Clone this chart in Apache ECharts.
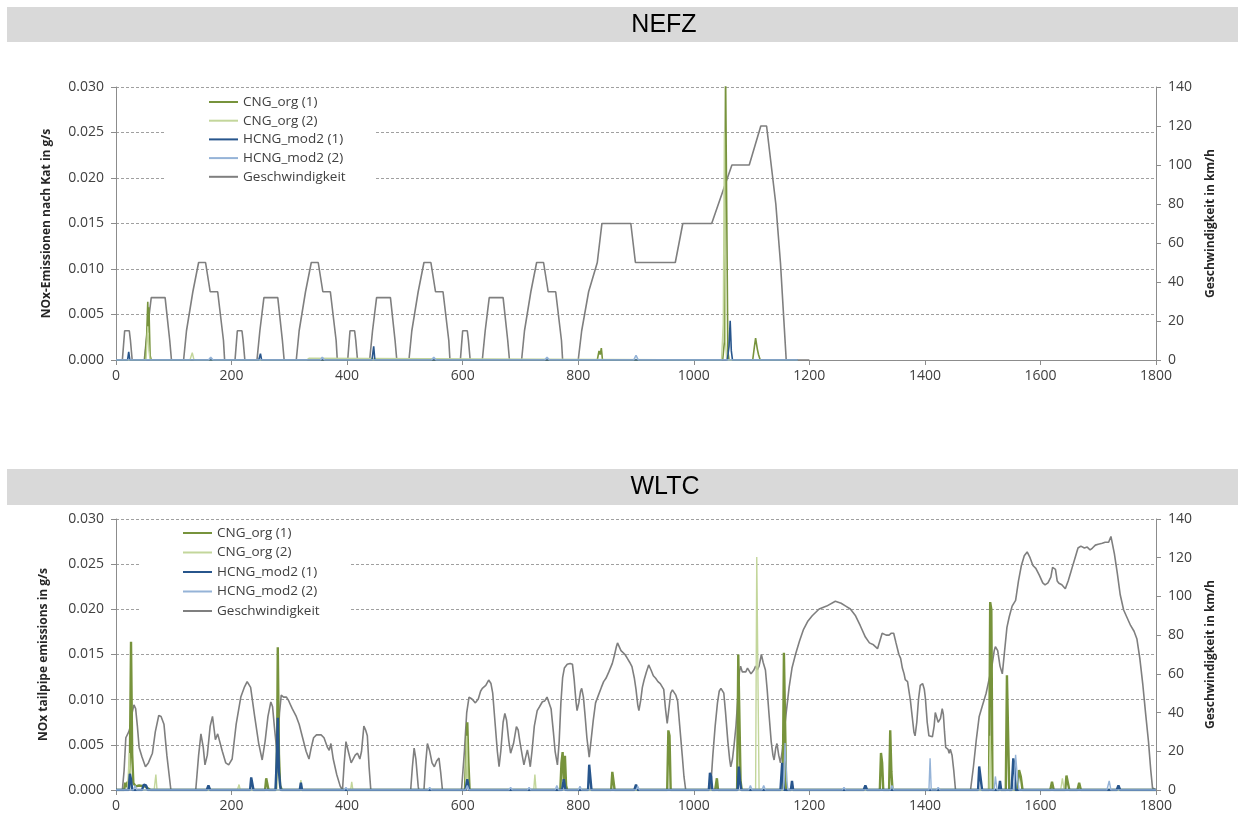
<!DOCTYPE html>
<html><head><meta charset="utf-8">
<script src="https://cdn.jsdelivr.net/npm/echarts@6/dist/echarts.min.js"></script>
<style>html,body{margin:0;padding:0;background:#fff}#c{width:1245px;height:819px}</style>
</head><body><div id="c"></div>
<script>
// ---------- labels ----------
const titles = ['NEFZ', 'WLTC'];
const seriesNames = ['CNG_org (1)', 'CNG_org (2)', 'HCNG_mod2 (1)', 'HCNG_mod2 (2)', 'Geschwindigkeit'];
const leftAxisNames = ['NOx-Emissionen nach Kat in g/s', 'NOx tailpipe emissions in g/s'];
const rightAxisName = 'Geschwindigkeit in km/h';
const xTicks = [0, 200, 400, 600, 800, 1000, 1200, 1400, 1600, 1800];

// ---------- NEFZ data: [time s, value] ----------
const nefzSpeed = [
 [0,0],[11,0],[15,15],[23,15],[25,10],[28,0],[49,0],[54,15],[56,15],[61,32],[85,32],[93,10],[96,0],[117,0],[122,15],[124,15],[133,35],[135,35],[143,50],[155,50],[163,35],[176,35],[186,10],[188,0],
 [206,0],[210,15],[218,15],[220,10],[223,0],[244,0],[249,15],[251,15],[256,32],[280,32],[288,10],[291,0],[312,0],[317,15],[319,15],[328,35],[330,35],[338,50],[350,50],[358,35],[371,35],[381,10],[383,0],
 [401,0],[405,15],[413,15],[415,10],[418,0],[439,0],[444,15],[446,15],[451,32],[475,32],[483,10],[486,0],[507,0],[512,15],[514,15],[523,35],[525,35],[533,50],[545,50],[553,35],[566,35],[576,10],[578,0],
 [596,0],[600,15],[608,15],[610,10],[613,0],[634,0],[639,15],[641,15],[646,32],[670,32],[678,10],[681,0],[702,0],[707,15],[709,15],[718,35],[720,35],[728,50],[740,50],[748,35],[761,35],[771,10],[773,0],
 [800,0],[806,15],[808,15],[818,35],[820,35],[833,50],[835,50],[841,70],[891,70],[899,50],[968,50],[981,70],[1031,70],[1066,100],[1096,100],[1116,120],[1126,120],[1142,80],[1150,50],[1160,0],[1180,0],[1200,0]
];
const nefzCng1 = [[0,0],[50,0],[53,0.0025],[55,0.0064],[56,0.003],[57,0.0058],[59,0.0005],[61,0],[833,0],[836,0.001],[838,0.0006],[840,0.0013],[842,0],[1050,0],[1053,0.002],[1055,0.032],[1057,0.032],[1059,0.001],[1061,0],[1102,0],[1105,0.0015],[1107,0.0024],[1110,0.0012],[1112,0.0006],[1115,0],[1180,0]];
const nefzCng2 = [[0,0],[52,0],[55,0.0037],[57,0.001],[59,0],[128,0],[132,0.0008],[135,0],[330,0],[334,0.0002],[337,0],[1048,0],[1051,0.004],[1053,0.025],[1055,0.002],[1057,0],[1180,0]];
const nefzH1 = [[0,0],[20,0],[22,0.0009],[24,0],[247,0],[250,0.0007],[252,0],[443,0],[446,0.0015],[448,0],[1058,0],[1061,0.0015],[1063,0.0043],[1065,0.001],[1067,0],[1180,0]];
const nefzH2 = [[0,0],[160,0],[164,0.0003],[168,0],[354,0],[357,0.0003],[361,0],[546,0],[550,0.0003],[554,0],[742,0],[746,0.0003],[750,0],[896,0],[900,0.0005],[904,0],[1115,0],[1118,0.0002],[1121,0],[1180,0]];

// ---------- WLTC data: [time s, value] ----------
const wltcSpeed = [
 [0,0],[11,0],[14,10],[17,27],[22,30],[25,33],[28,40],[31,44],[34,42],[37,33],[40,22],[45,17],[51,12],[56,14],[63,19],[68,30],[74,38.5],[78,38],[83,34],[88,18],[95,0],
 [138,0],[143,18],[147,29],[151,22],[154,13],[158,18],[163,33],[167,38],[170,31],[172,26],[176,29],[178,29],[184,20],[190,14],[195,13],[201,16],[208,34],[216,48],[222,53],[227,56],[230,56],[233,53],[240,38],[247,24],[253,15.5],[258,25],[263,38],[268,45.5],[271,43],[274,33],[279,18],[283,40],[286,49],[290,48],[295,48],[299,46],[305,42],[312,38],[317,34],[323,27],[329,20],[334,16],[338,22],[342,27],[347,28.5],[355,28.5],[360,27],[363,27],[366,22],[369,20.5],[372,24],[376,16],[382,8],[388,2],[392,0],[395,14],[398,25],[402,20],[407,14],[410,14],[414,18],[418,19],[422,16],[425,20],[429,33],[432,31],[435,28],[438,12],[441,0],
 [510,0],[513,12],[516,21.6],[519,16],[523,2],[524,0],[533,0],[536,14],[539,24],[543,20],[547,14],[551,12],[555,15],[559,16.5],[562,9],[565,0],
 [598,0],[603,20],[607,40],[611,48],[616,47],[622,45],[627,47],[631,51],[634,52.5],[640,54],[645,56.8],[649,55],[652,50],[656,35],[660,20],[663,12],[666,20],[670,35],[673,39.6],[676,36],[680,25],[683,19],[688,24],[693,32.7],[696,31],[699,25],[703,18],[706,13],[709,17],[712,20.7],[715,16],[717,12],[720,20],[724,33],[729,41],[733,43],[738,45.6],[742,46],[746,48],[749,49],[753,42],[757,30],[760,20],[764,13],[767,25],[770,45],[773,58],[776,63],[781,65],[786,65.4],[790,65],[793,57],[796,46],[798,41],[801,45],[804,51],[806,52.5],[809,48],[812,38],[815,27],[819,17],[822,25],[826,36],[830,45],[835,49],[840,53],[844,56],[848,57.7],[853,61],[859,65.4],[863,70],[866,74],[868,76],[871,75],[874,72],[877,71],[881,70],[885,68],[889,66],[893,63.7],[897,58],[900,52],[903,44],[905,41],[908,46],[911,53],[914,56.8],[918,61],[922,64.6],[926,62],[930,59],[934,57.7],[938,56],[942,55],[945,55],[948,52],[951,42],[954,34.4],[957,42],[960,50],[963,51.7],[966,51],[969,49],[972,46],[976,32],[980,18],[983,7],[986,0],
 [1029,0],[1033,18],[1037,33],[1041,45],[1044,51],[1047,52.5],[1050,52],[1052,50],[1055,40],[1059,25],[1062,16],[1064,12],[1067,16],[1070,24],[1073,33],[1075,42],[1077,52],[1079,61],[1081,64],[1084,61],[1087,61],[1090,61],[1093,63],[1096,64],[1099,60],[1101,60],[1104,62],[1107,64],[1110,62],[1113,64],[1117,70],[1120,66],[1124,62],[1127,52],[1130,40],[1134,25],[1137,18],[1139,15.5],[1142,22],[1144,24],[1147,18],[1150,14],[1153,20],[1156,29],[1160,40],[1165,53],[1170,63],[1176,70],[1183,77],[1190,83],[1197,87],[1205,90],[1217,93.5],[1230,95],[1245,97.5],[1255,96.5],[1263,95],[1271,93.5],[1280,90],[1288,85],[1297,79],[1304,76],[1311,75],[1318,73],[1322,77],[1326,81],[1333,80],[1338,80],[1342,81],[1346,81],[1350,76],[1355,70],[1358,68],[1361,63],[1364,60],[1366,57],[1370,56],[1372,52],[1375,46],[1378,38],[1381,30],[1383,28],[1386,35],[1389,47],[1392,54],[1396,55],[1399,52],[1401,47],[1404,35],[1407,28],[1413,27.5],[1416,33],[1418,40],[1420,41],[1423,35],[1427,37],[1430,42],[1432,39],[1434,30],[1436,22],[1440,21],[1442,19],[1444,21],[1447,18],[1450,10],[1453,0],
 [1479,0],[1484,12],[1489,26],[1494,38],[1500,44],[1506,50],[1511,57],[1516,64],[1520,72],[1522,74],[1526,72],[1530,64],[1534,60],[1538,72],[1542,84],[1546,89.5],[1551,95],[1557,98],[1562,108],[1567,116],[1572,121],[1577,123],[1582,120],[1587,116],[1592,114.5],[1598,111],[1604,107],[1608,106],[1613,107],[1618,110],[1621,115],[1623,116],[1626,114],[1629,108],[1632,106.8],[1637,106],[1643,104],[1648,108],[1652,112],[1655,115],[1660,120],[1665,125],[1670,126],[1676,125],[1681,125.5],[1686,124],[1690,125],[1695,126.5],[1700,127],[1707,127.5],[1712,128],[1718,128],[1722,131],[1725,130],[1728,122],[1733,112],[1738,101],[1744,93],[1750,89],[1756,85],[1762,82],[1767,78],[1772,68],[1777,55],[1782,39.6],[1787,25],[1791,10],[1794,1],[1800,0]
];
const wltcCng1 = [[0,0],[14,0],[16,0.0008],[18,0.0003],[20,0.0009],[22,0.0004],[24,0.003],[26,0.0164],[28,0.004],[30,0.0008],[34,0.0004],[40,0.0005],[50,0.0004],[55,0.0002],[60,0],[258,0],[260,0.0013],[262,0.0013],[264,0],[277,0],[279,0.006],[280,0.0158],[282,0.004],[284,0.0005],[287,0],[604,0],[606,0.004],[608,0.0075],[610,0.003],[612,0],[769,0],[771,0.003],[773,0.0042],[775,0.001],[777,0.0038],[779,0.0005],[781,0],[857,0],[859,0.002],[861,0.0019],[863,0],[954,0],[956,0.0066],[958,0.006],[960,0],[1037,0],[1040,0.0013],[1042,0],[1075,0],[1077,0.015],[1079,0.0148],[1081,0.001],[1083,0],[1154,0],[1156,0.0152],[1158,0.015],[1160,0],[1322,0],[1324,0.0041],[1326,0.003],[1328,0],[1338,0],[1340,0.0066],[1342,0.002],[1344,0],[1511,0],[1513,0.0208],[1515,0.02],[1517,0],[1540,0],[1542,0.0127],[1544,0.0125],[1546,0],[1560,0],[1563,0.0022],[1566,0.0015],[1569,0],[1617,0],[1620,0.0009],[1623,0],[1643,0],[1645,0.0016],[1648,0.0017],[1650,0],[1664,0],[1667,0.0008],[1670,0],[1800,0]];
const wltcCng2 = [[0,0],[20,0],[23,0.0041],[25,0.001],[27,0],[66,0],[69,0.0017],[71,0],[210,0],[213,0.0006],[215,0],[318,0],[320,0.0011],[322,0],[406,0],[408,0.0009],[410,0],[605,0],[607,0.006],[609,0.001],[611,0],[723,0],[725,0.0017],[727,0],[1107,0],[1109,0.0258],[1111,0.0258],[1113,0],[1511,0],[1513,0.006],[1515,0],[1635,0],[1638,0.0013],[1641,0],[1800,0]];
const wltcH1 = [[0,0],[22,0],[24,0.0018],[26,0.0012],[28,0],[45,0],[48,0.0006],[52,0.0005],[55,0],[157,0],[160,0.0005],[163,0],[232,0],[234,0.0014],[236,0.0013],[238,0],[276,0],[278,0.003],[280,0.008],[282,0.002],[285,0],[318,0],[320,0.0008],[322,0],[605,0],[608,0.0012],[611,0],[772,0],[775,0.0012],[778,0],[817,0],[819,0.0028],[821,0.0026],[823,0],[897,0],[900,0.0006],[903,0],[1026,0],[1028,0.0019],[1030,0.0015],[1032,0],[1076,0],[1078,0.0026],[1080,0.001],[1082,0],[1150,0],[1153,0.003],[1156,0],[1168,0],[1170,0.001],[1172,0],[1294,0],[1297,0.0005],[1300,0],[1492,0],[1494,0.0026],[1496,0.0024],[1499,0],[1528,0],[1530,0.001],[1532,0],[1550,0],[1553,0.0035],[1555,0.0028],[1557,0],[1732,0],[1735,0.0005],[1738,0],[1800,0]];
const wltcH2 = [[0,0],[30,0],[33,0.0005],[36,0],[150,0],[153,0.0002],[156,0],[395,0],[398,0.0003],[401,0],[540,0],[543,0.0003],[546,0],[605,0],[608,0.0005],[611,0],[680,0],[683,0.0003],[686,0],[712,0],[715,0.0003],[718,0],[760,0],[763,0.0005],[766,0],[800,0],[803,0.0004],[806,0],[900,0],[903,0.0004],[906,0],[1095,0],[1098,0.0005],[1101,0],[1118,0],[1121,0.0005],[1124,0],[1155,0],[1158,0.0052],[1161,0.001],[1163,0],[1257,0],[1260,0.0003],[1263,0],[1340,0],[1343,0.0005],[1346,0],[1407,0],[1409,0.0035],[1411,0],[1420,0],[1423,0.0003],[1426,0],[1520,0],[1522,0.0015],[1525,0],[1554,0],[1557,0.0039],[1560,0.0015],[1563,0],[1715,0],[1719,0.001],[1722,0],[1800,0]];

// ---------- styling ----------
const colors = ['#77933C', '#C3D69B', '#27558C', '#95B3D7', '#7F7F7F'];
const FONT = 'Open Sans';
const axisColor = '#8C8C8C';
const labelColor = '#404040';

const chart = echarts.init(document.getElementById('c'), null, {renderer: 'canvas'});

const grids = [
  {left: 116, right: 89, top: 87, height: 273},
  {left: 116, right: 89, top: 519, height: 271}
];

function xAxis(i) {
  return {
    type: 'value', gridIndex: i, min: 0, max: 1800, interval: 200,
    axisLine: {lineStyle: {color: axisColor}},
    axisTick: {show: true, length: 5, lineStyle: {color: axisColor}},
    axisLabel: {color: labelColor, fontFamily: FONT, fontSize: 14, margin: 9,
      formatter: v => xTicks.includes(v) ? String(v) : ''},
    splitLine: {show: false}
  };
}
function yLeft(i) {
  return {
    type: 'value', gridIndex: i, position: 'left', min: 0, max: 0.03, interval: 0.005,
    name: leftAxisNames[i], nameLocation: 'middle', nameRotate: 90, nameGap: i === 0 ? 63 : 66,
    nameTextStyle: {fontFamily: FONT, fontSize: 12, fontWeight: 'bold', color: '#262626'},
    axisLine: {show: true, lineStyle: {color: axisColor}},
    axisTick: {show: true, length: 5, lineStyle: {color: axisColor}},
    axisLabel: {color: labelColor, fontFamily: FONT, fontSize: 14, margin: 12,
      formatter: v => v.toFixed(3)},
    splitLine: {show: true, lineStyle: {color: '#A0A0A0', type: [3, 2], width: 1}}
  };
}
function yRight(i) {
  return {
    type: 'value', gridIndex: i, position: 'right', min: 0, max: 140, interval: 20,
    name: rightAxisName, nameLocation: 'middle', nameRotate: 90, nameGap: 49,
    nameTextStyle: {fontFamily: FONT, fontSize: 12, fontWeight: 'bold', color: '#262626'},
    axisLine: {show: true, lineStyle: {color: axisColor}},
    axisTick: {show: true, length: 5, lineStyle: {color: axisColor}},
    axisLabel: {color: labelColor, fontFamily: FONT, fontSize: 14, margin: 12},
    splitLine: {show: false}
  };
}
function line(name, data, gi, yi, color, width, z) {
  return {
    type: 'line', name: name, data: data, xAxisIndex: gi, yAxisIndex: yi,
    symbol: 'none', showSymbol: false, clip: true, z: z,
    lineStyle: {color: color, width: width}, itemStyle: {color: color},
    emphasis: {disabled: true}
  };
}
function legend(i, left, top) {
  return {
    show: true, orient: 'vertical', left: left, top: top,
    data: seriesNames, icon: 'rect', itemWidth: 29, itemHeight: 2, itemGap: i === 0 ? 2.7 : 3.5,
    backgroundColor: '#ffffff', padding: i === 0 ? [2, 30, 3, 43] : [3, 30, 4, 42],
    textStyle: {fontFamily: FONT, fontSize: 13.5, color: labelColor, lineHeight: 16},
    selectedMode: false
  };
}

const option = {
  animation: false,
  backgroundColor: '#ffffff',
  grid: grids,
  xAxis: [xAxis(0), xAxis(1)],
  yAxis: [yLeft(0), yRight(0), yLeft(1), yRight(1)],
  legend: [legend(0, 166, 92), legend(1, 141, 522)],
  graphic: [
    {type: 'rect', shape: {x: 7, y: 7, width: 1231, height: 35}, style: {fill: '#D9D9D9'}, z: -1},
    {type: 'text', x: 664, y: 25, style: {text: titles[0], fill: '#000', font: '25px "Liberation Sans", Arial', textAlign: 'center', textVerticalAlign: 'middle'}},
    {type: 'rect', shape: {x: 7, y: 469, width: 1231, height: 36}, style: {fill: '#D9D9D9'}, z: -1},
    {type: 'text', x: 665, y: 487, style: {text: titles[1], fill: '#000', font: '25px "Liberation Sans", Arial', textAlign: 'center', textVerticalAlign: 'middle'}}
  ],
  series: [
    line(seriesNames[4], nefzSpeed, 0, 1, colors[4], 1.6, 2),
    line(seriesNames[0], nefzCng1, 0, 0, colors[0], 1.6, 3),
    line(seriesNames[1], nefzCng2, 0, 0, colors[1], 1.4, 3),
    line(seriesNames[2], nefzH1, 0, 0, colors[2], 1.6, 4),
    line(seriesNames[3], nefzH2, 0, 0, colors[3], 1.6, 5),
    line(seriesNames[4], wltcSpeed, 1, 3, colors[4], 1.6, 2),
    line(seriesNames[0], wltcCng1, 1, 2, colors[0], 2.4, 3),
    line(seriesNames[1], wltcCng2, 1, 2, colors[1], 1.4, 3),
    line(seriesNames[2], wltcH1, 1, 2, colors[2], 2.4, 4),
    line(seriesNames[3], wltcH2, 1, 2, colors[3], 1.4, 5)
  ]
};
chart.setOption(option);
</script>
</body></html>
